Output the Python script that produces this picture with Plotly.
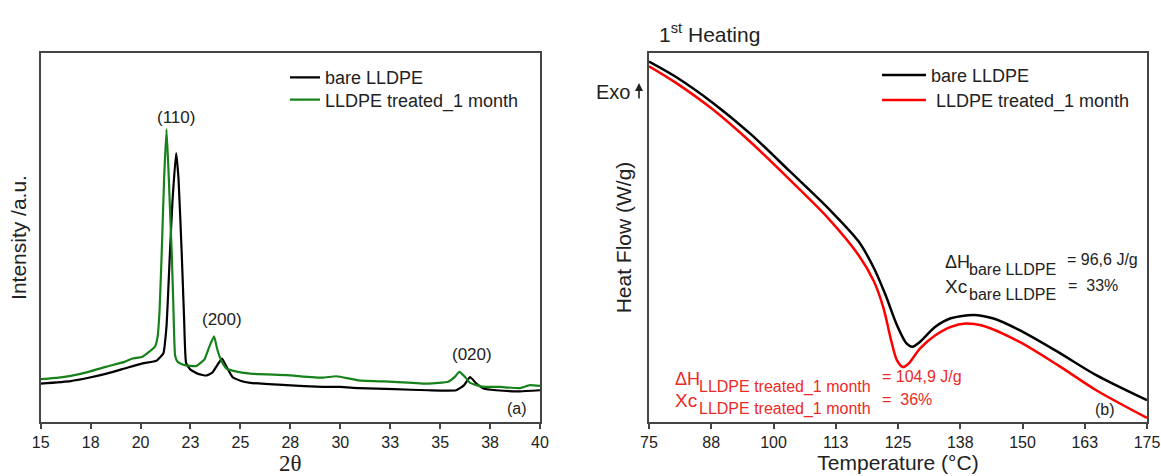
import plotly.graph_objects as go

# ---------------- XRD (panel a) ----------------
xrd_2theta_bare = [15.0, 16.5, 17.4, 18.3, 19.2, 20.1, 20.8, 21.14, 21.3, 21.47, 21.6, 21.78,
                   21.9, 22.06, 22.18, 22.28, 22.5, 22.9, 23.3, 23.6, 23.85, 24.08, 24.3, 24.6,
                   25.0, 25.5, 27.3, 29.1, 30.0, 30.9, 32.7, 34.4, 35.8, 36.2, 36.5, 36.8, 37.2,
                   37.8, 39.0, 40.0]
xrd_int_bare = [10.4, 11.1, 12.0, 13.1, 14.5, 15.9, 16.6, 18.6, 26.0, 45.8, 60.0, 72.9,
                66.0, 45.8, 28.0, 16.0, 14.2, 13.0, 12.6, 13.4, 15.5, 17.2, 15.0, 12.2,
                11.2, 10.6, 10.0, 9.5, 9.5, 9.2, 8.9, 8.6, 8.6, 10.0, 12.2, 10.5, 9.0,
                8.6, 8.3, 8.6]

xrd_2theta_treated = [15.0, 16.0, 16.5, 17.4, 18.3, 19.2, 19.6, 20.1, 20.72, 20.85, 20.95, 21.06,
                      21.18, 21.3, 21.4, 21.5, 21.56, 21.64, 21.73, 21.85, 22.1, 22.5, 22.8, 23.2,
                      23.45, 23.68, 23.85, 24.05, 24.3, 24.7, 25.5, 27.3, 29.1, 29.8, 30.9, 32.7,
                      34.4, 35.4, 35.75, 35.96, 36.25, 36.5, 37.1, 38.0, 39.0, 39.5, 40.0]
xrd_int_treated = [11.6, 12.1, 12.5, 13.6, 15.0, 16.3, 17.2, 17.7, 20.4, 23.0, 30.0, 46.0,
                   66.0, 79.3, 68.0, 54.0, 46.0, 32.0, 18.0, 16.3, 15.6, 15.2, 15.2, 17.0,
                   20.5, 23.2, 19.5, 16.5, 14.5, 13.8, 13.1, 12.7, 12.0, 12.4, 11.3, 10.9,
                   10.4, 10.9, 12.3, 13.6, 12.2, 10.6, 9.6, 9.5, 9.2, 10.0, 9.8]

xrd_tickvals = [15, 17.5, 20, 22.5, 25, 27.5, 30, 32.5, 35, 37.5, 40]
xrd_ticktext = ["15", "18", "20", "23", "25", "28", "30", "33", "35", "38", "40"]

# ---------------- DSC (panel b) ----------------
dsc_T_bare = [75, 80.2, 87.9, 95.6, 103.3, 111.0, 117.1, 120.2, 122.5, 124.8, 126.7, 127.9,
              129.4, 132.5, 135.6, 140.2, 144.0, 149.4, 157.1, 164.8, 175]
dsc_hf_bare = [97.7, 93.7, 86.4, 77.8, 67.9, 57.9, 48.9, 41.6, 34.4, 26.2, 21.3, 20.4,
               21.7, 25.8, 28.1, 29.0, 28.1, 24.9, 19.0, 12.7, 5.9]

dsc_T_treated = [75, 80.2, 87.9, 95.6, 103.3, 111.0, 117.1, 120.2, 122.1, 123.7, 124.8, 126.0,
                 127.1, 129.4, 132.5, 135.6, 138.6, 141.7, 149.4, 157.1, 164.8, 175]
dsc_hf_treated = [96.4, 92.1, 84.6, 75.6, 65.6, 55.2, 45.2, 38.0, 30.8, 21.7, 16.7, 14.9,
                  15.8, 19.9, 23.5, 25.8, 26.7, 26.2, 21.7, 15.4, 8.6, 1.1]

dsc_tickvals = [75, 87.5, 100, 112.5, 125, 137.5, 150, 162.5, 175]
dsc_ticktext = ["75", "88", "100", "113", "125", "138", "150", "163", "175"]

FONT = "Liberation Sans, Arial, sans-serif"
TXT = "#222222"
AX = "#444444"
GREEN = "#17821b"
RED = "#ff0000"
RED_TXT = "#ec2a26"

W, H = 1161, 476
T, B = 53, 54
PH = H - T - B


def px(x):
    return x / W


def py(y):
    return (H - B - y) / PH


fig = go.Figure()
fig.add_trace(go.Scatter(x=xrd_2theta_bare, y=xrd_int_bare, mode="lines", name="bare LLDPE",
                         line=dict(color="black", width=2.2, shape="spline", smoothing=0.4),
                         xaxis="x", yaxis="y", legend="legend"))
fig.add_trace(go.Scatter(x=xrd_2theta_treated, y=xrd_int_treated, mode="lines",
                         name="LLDPE treated_1 month",
                         line=dict(color=GREEN, width=2.2, shape="spline", smoothing=0.4),
                         xaxis="x", yaxis="y", legend="legend2"))
fig.add_trace(go.Scatter(x=dsc_T_bare, y=dsc_hf_bare, mode="lines", name="bare LLDPE",
                         line=dict(color="black", width=2.5, shape="spline", smoothing=0.8),
                         xaxis="x2", yaxis="y2", legend="legend3"))
fig.add_trace(go.Scatter(x=dsc_T_treated, y=dsc_hf_treated, mode="lines",
                         name="\u00a0LLDPE treated_1 month",
                         line=dict(color=RED, width=2.5, shape="spline", smoothing=0.8),
                         xaxis="x2", yaxis="y2", legend="legend4"))

axis_common = dict(showline=True, linecolor=AX, linewidth=1.5, mirror=True, showgrid=False,
                   zeroline=False, automargin=False)


def leg(x, y, iw):
    return dict(x=px(x), y=py(y), xanchor="left", yanchor="middle", bgcolor="rgba(0,0,0,0)",
                font=dict(size=18, color=TXT), itemwidth=iw, borderwidth=0)


fig.update_layout(
    width=W, height=H,
    margin=dict(l=0, r=0, t=T, b=B, autoexpand=False),
    paper_bgcolor="white", plot_bgcolor="white",
    font=dict(family=FONT, color=TXT),
    xaxis=dict(domain=[px(40.7), px(540)], range=[15, 40], tickmode="array",
               tickvals=xrd_tickvals, ticktext=xrd_ticktext, ticks="outside", ticklen=5,
               tickwidth=1.5, tickcolor=AX, tickfont=dict(size=16, color=TXT),
               title=dict(text="2θ", font=dict(family="Liberation Serif, serif", size=23, color=TXT),
                          standoff=2), anchor="y", **axis_common),
    yaxis=dict(domain=[0, 1], range=[0, 100], showticklabels=False, ticks="",
               title=dict(text="Intensity /a.u.", font=dict(size=21, color=TXT), standoff=7),
               anchor="x", **axis_common),
    xaxis2=dict(domain=[px(649), px(1147)], range=[75, 175], tickmode="array",
                tickvals=dsc_tickvals, ticktext=dsc_ticktext, ticks="outside", ticklen=5,
                tickwidth=1.5, tickcolor=AX, tickfont=dict(size=16, color=TXT),
                title=dict(text="Temperature (°C)", font=dict(size=21, color=TXT), standoff=4),
                anchor="y2", **axis_common),
    yaxis2=dict(domain=[0, 1], range=[0, 100], showticklabels=False, ticks="",
                title=dict(text="Heat Flow (W/g)", font=dict(size=21, color=TXT), standoff=10),
                anchor="x2", **axis_common),
    legend=leg(285, 77.7, 30),
    legend2=leg(285, 100, 30),
    legend3=leg(877, 75.3, 44),
    legend4=leg(877, 100.3, 44),
    showlegend=True,
)

ann = []
# peak labels panel (a)
ann.append(dict(x=21.75, y=82.6, xref="x", yref="y", text="(110)", showarrow=False,
                font=dict(size=17, color=TXT)))
ann.append(dict(x=24.07, y=27.7, xref="x", yref="y", text="(200)", showarrow=False,
                font=dict(size=17, color=TXT)))
ann.append(dict(x=36.6, y=18.2, xref="x", yref="y", text="(020)", showarrow=False,
                font=dict(size=17, color=TXT)))
ann.append(dict(x=38.85, y=3.6, xref="x", yref="y", text="(a)", showarrow=False,
                font=dict(size=16, color=TXT)))
# panel (b)
ann.append(dict(x=166.6, y=3.5, xref="x2", yref="y2", text="(b)", showarrow=False,
                font=dict(size=16, color=TXT)))
ann.append(dict(x=px(657), y=py(33), xref="paper", yref="paper", xanchor="left", yanchor="middle",
                text="1<sup>st</sup> Heating", showarrow=False, font=dict(size=21, color=TXT)))
ann.append(dict(x=px(594), y=py(91.7), xref="paper", yref="paper", xanchor="left",
                yanchor="middle", text="Exo", showarrow=False, font=dict(size=20, color=TXT)))
ann.append(dict(x=px(639), y=py(83), xref="paper", yref="paper", ax=0, ay=17, text="",
                showarrow=True, arrowhead=2, arrowsize=1, arrowwidth=1.6, arrowcolor=TXT))


def txt(x, y, s, size, color):
    ann.append(dict(x=x, y=y, xref="x2", yref="y2", xanchor="left", yanchor="middle", text=s,
                    showarrow=False, font=dict(size=size, color=color)))


# bare LLDPE
txt(134.0, 43.4, "ΔH", 18, TXT)
txt(138.9, 41.3, "bare LLDPE", 16, TXT)
txt(158.5, 44.0, "= 96,6 J/g", 16, TXT)
txt(134.0, 36.6, "Xc", 19, TXT)
txt(138.9, 34.5, "bare LLDPE", 16, TXT)
txt(158.7, 37.1, "=  33%", 16, TXT)
# treated
txt(79.8, 11.6, "ΔH", 18, RED_TXT)
txt(84.6, 9.5, "LLDPE treated_1 month", 16, RED_TXT)
txt(121.4, 12.2, "= 104,9 J/g", 16, RED_TXT)
txt(79.8, 5.8, "Xc", 19, RED_TXT)
txt(84.6, 3.6, "LLDPE treated_1 month", 16, RED_TXT)
txt(121.4, 6.0, "=  36%", 16, RED_TXT)

fig.update_layout(annotations=ann)

fig.write_html("out.html")
